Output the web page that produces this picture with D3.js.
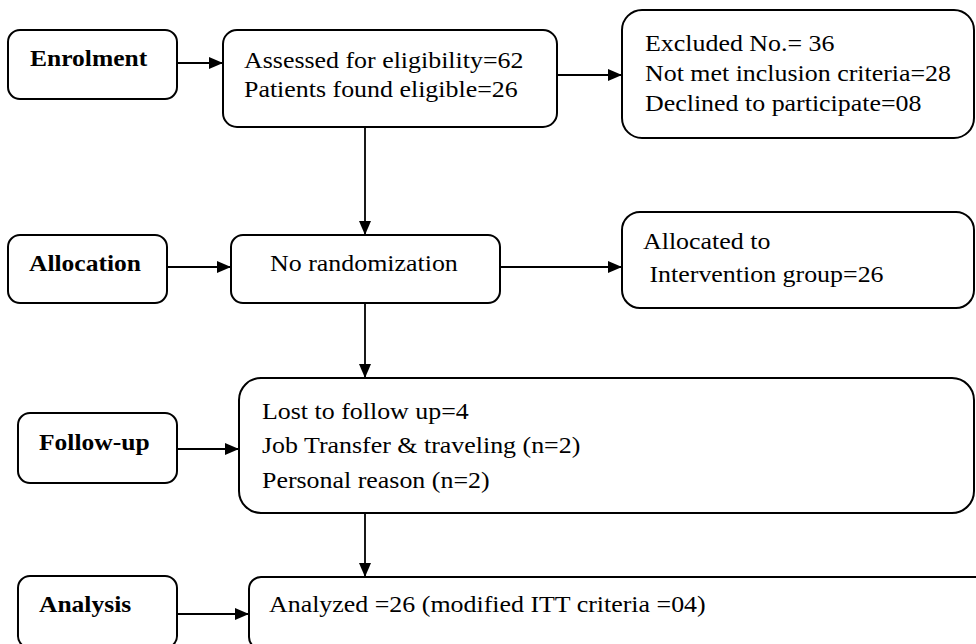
<!DOCTYPE html>
<html>
<head>
<meta charset="utf-8">
<script src="https://cdn.jsdelivr.net/npm/d3@7"></script>
<style>
  html, body { margin: 0; padding: 0; background: #fff; }
  svg { display: block; }
</style>
</head>
<body>
<div id="chart"></div>
<script>
// Stage labels (left column)
const stageIds = ['enrol', 'alloc', 'follow', 'analysis'];
const stageLabels = ['Enrolment', 'Allocation', 'Follow-up', 'Analysis'];

// Content boxes and their text lines
const boxIds = ['assessed', 'excluded', 'norand', 'allocated', 'lost', 'analyzed'];
const boxLines = [
    ['Assessed for eligibility=62', 'Patients found eligible=26'],
    ['Excluded No.= 36', 'Not met inclusion criteria=28', 'Declined to participate=08'],
    ['No randomization'],
    ['Allocated to', '\u00a0Intervention group=26'],
    ['Lost to follow up=4', 'Job Transfer & traveling (n=2)', 'Personal reason (n=2)'],
    ['Analyzed =26 (modified ITT criteria =04)']
];

// Connections (from -> to)
const links = [
    ['enrol', 'assessed'], ['assessed', 'excluded'], ['assessed', 'norand'],
    ['alloc', 'norand'], ['norand', 'allocated'], ['norand', 'lost'],
    ['follow', 'lost'], ['lost', 'analyzed'], ['analysis', 'analyzed']
];

const W = 976, H = 644;

// Layout (pixel geometry of the flow chart)
const layout = {
    enrol:     { x: 8,   y: 30,  w: 169, h: 69,  r: 12, tx: 30,  ty: 66 },
    alloc:     { x: 8,   y: 235, w: 159, h: 68,  r: 12, tx: 29,  ty: 271 },
    follow:    { x: 18,  y: 413, w: 159, h: 70,  r: 12, tx: 39,  ty: 450 },
    analysis:  { x: 18,  y: 576, w: 159, h: 72,  r: 12, tx: 39,  ty: 612 },
    assessed:  { x: 223, y: 30,  w: 334, h: 97,  r: 14, tx: 244, ty: 68,  lh: 29.5 },
    excluded:  { x: 622, y: 10,  w: 352, h: 128, r: 20, tx: 645, ty: 51,  lh: 30 },
    norand:    { x: 231, y: 235, w: 269, h: 68,  r: 12, tx: 270, ty: 271, lh: 30 },
    allocated: { x: 622, y: 212, w: 352, h: 96,  r: 18, tx: 643, ty: 249, lh: 33 },
    lost:      { x: 239, y: 378, w: 735, h: 135, r: 22, tx: 262, ty: 419, lh: 34.5 },
    analyzed:  { x: 249, y: 577, w: 740, h: 72,  r: 12, tx: 269, ty: 612, lh: 30 }
};

// Connector anchor points
const anchors = {
    'enrol>assessed':     { from: [177, 63],  to: [223, 63] },
    'assessed>excluded':  { from: [557, 75],  to: [622, 75] },
    'assessed>norand':    { from: [365, 127], to: [365, 235] },
    'alloc>norand':       { from: [167, 267], to: [231, 267] },
    'norand>allocated':   { from: [500, 267], to: [622, 267] },
    'norand>lost':        { from: [365, 303], to: [365, 378] },
    'follow>lost':        { from: [177, 449], to: [239, 449] },
    'lost>analyzed':      { from: [365, 513], to: [365, 577] },
    'analysis>analyzed':  { from: [177, 614], to: [249, 614] }
};

const FONT = '"Liberation Serif", "Times New Roman", serif';
const SX = 1.08;   // source picture is slightly stretched horizontally
const SXB = 1.11;

const svg = d3.select('#chart').append('svg')
    .attr('width', W)
    .attr('height', H)
    .attr('viewBox', `0 0 ${W} ${H}`);

svg.append('defs').append('marker')
    .attr('id', 'arrow')
    .attr('viewBox', '0 0 14 12')
    .attr('refX', 14)
    .attr('refY', 6)
    .attr('markerWidth', 14)
    .attr('markerHeight', 12)
    .attr('markerUnits', 'userSpaceOnUse')
    .attr('orient', 'auto')
    .append('path')
    .attr('d', 'M0,0 L14,6 L0,12 Z')
    .attr('fill', '#000');

// Arrows
const lineGen = d3.line();
svg.append('g').selectAll('path')
    .data(links)
    .join('path')
    .attr('d', d => {
        const a = anchors[d[0] + '>' + d[1]];
        return lineGen([a.from, a.to]);
    })
    .attr('fill', 'none')
    .attr('stroke', '#000')
    .attr('stroke-width', 1.8)
    .attr('marker-end', 'url(#arrow)');

// Boxes
const allIds = stageIds.concat(boxIds);
svg.append('g').selectAll('rect')
    .data(allIds)
    .join('rect')
    .attr('x', d => layout[d].x)
    .attr('y', d => layout[d].y)
    .attr('width', d => layout[d].w)
    .attr('height', d => layout[d].h)
    .attr('rx', d => layout[d].r)
    .attr('fill', '#fff')
    .attr('stroke', '#000')
    .attr('stroke-width', 2);

// Stage labels (bold)
svg.append('g').selectAll('text')
    .data(stageIds)
    .join('text')
    .attr('transform', d => `translate(${layout[d].tx},${layout[d].ty}) scale(${SXB},1)`)
    .style('font-family', FONT)
    .attr('font-weight', 'bold')
    .attr('font-size', 23)
    .attr('fill', '#000')
    .text((d, i) => stageLabels[i]);

// Box content
const groups = svg.append('g').selectAll('g')
    .data(boxIds)
    .join('g')
    .attr('transform', d => `translate(${layout[d].tx},${layout[d].ty}) scale(${SX},1)`);

groups.selectAll('text')
    .data((d, i) => boxLines[i].map((t, k) => ({ t, k, lh: layout[d].lh })))
    .join('text')
    .attr('y', d => d.k * d.lh)
    .style('font-family', FONT)
    .attr('font-size', 24)
    .attr('fill', '#000')
    .attr('xml:space', 'preserve')
    .text(d => d.t);
</script>
</body>
</html>
